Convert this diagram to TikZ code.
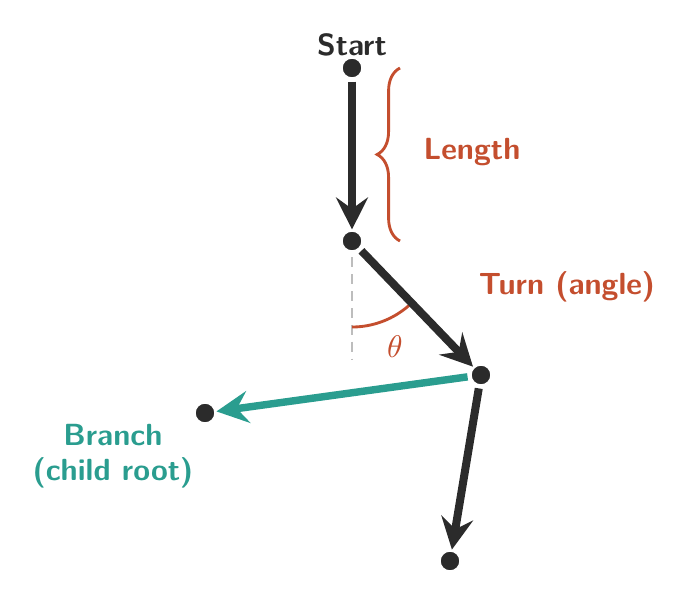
\documentclass[tikz,border=0pt]{standalone}
\usetikzlibrary{arrows.meta,decorations.pathreplacing}
\definecolor{ink}{HTML}{2B2B2B}
\definecolor{accent}{HTML}{C44E2E}
\definecolor{branchc}{HTML}{2A9D8F}
\definecolor{guide}{HTML}{BDBDBD}
\begin{document}
\begin{tikzpicture}[x=0.35pt,y=-0.35pt,font=\fontsize{10.7}{12.2}\selectfont\sffamily\bfseries,
  dot/.style={circle,fill=ink,draw=white,line width=0.5pt,inner sep=0pt,minimum size=7pt},
  tip/.style={-{Stealth[length=11.2pt,width=11.2pt,inset=4pt]}},
  seg/.style={line width=2.8pt,draw=ink,tip,shorten >=0.3pt,shorten <=1pt},
  branchseg/.style={line width=2.6pt,draw=branchc,tip,shorten >=0.3pt,shorten <=1pt},
  guideline/.style={draw=guide,line width=1pt,dash pattern=on 3.5pt off 2.4pt,shorten <=2pt},
  note/.style={text=accent},
]
\useasboundingbox (0,0) rectangle (690,599);
\node[dot] (s) at (352,68) {};
\node[dot] (a) at (352,241) {};
\node[dot] (b) at (481,375) {};
\node[dot] (c) at (205,413) {};
\node[dot] (e) at (450,561) {};
\coordinate (g) at (352,360);
\coordinate (bt) at (400,68);
\coordinate (bb) at (400,241);

\draw[guideline] (a) -- (g);
\draw[accent,line width=1pt] plot[domain=46:90,samples=40] ({352+86*cos(\x)},{241+86*sin(\x)});

\draw[seg] (s) -- (a);
\draw[seg] (a) -- (b);
\draw[seg] (b) -- (e);
\draw[branchseg] (b) -- (c);

\draw[accent,line width=1pt,decorate,decoration={brace,amplitude=8pt,mirror}] (bt) -- (bb);

\node[text=ink] (st) at (352,45) {Start};
\node[note] (len) at (472,152) {Length};
\node[note] (turn) at (567,287) {Turn (angle)};
\node[note] (th) at (395,347) {$\theta$};
\node[text=branchc,align=center] (br) at (113,456) {Branch\\(child root)};
\end{tikzpicture}
\end{document}
